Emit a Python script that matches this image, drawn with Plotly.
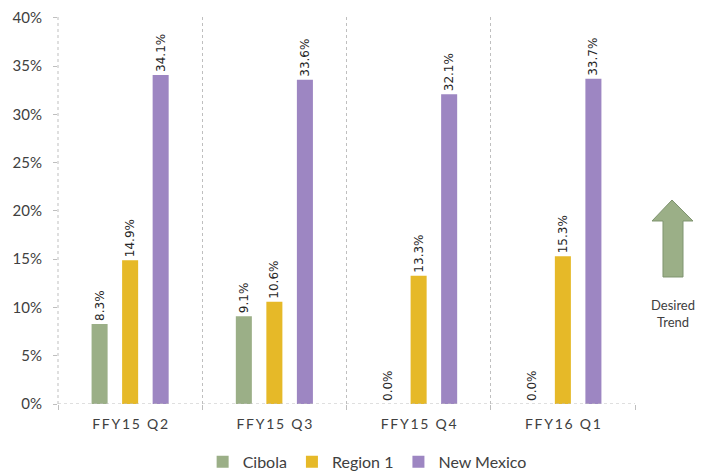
import plotly.graph_objects as go

# Data
quarters = ['FFY15 Q2', 'FFY15 Q3', 'FFY15 Q4', 'FFY16 Q1']
cibola = [0.083, 0.091, 0.0, 0.0]
region1 = [0.149, 0.106, 0.133, 0.153]
new_mexico = [0.341, 0.336, 0.321, 0.337]

series = [('Cibola', cibola, '#9BAF87'),
          ('Region 1', region1, '#E6B928'),
          ('New Mexico', new_mexico, '#9D86C2')]

fig = go.Figure()
for name, vals, color in series:
    fig.add_trace(go.Bar(x=quarters, y=vals, name=name,
                         marker=dict(color=color, line=dict(width=0)),
                         text=[f'{v*100:.1f}%' for v in vals],
                         textposition='outside', textangle=-90,
                         textfont=dict(family='DejaVu Sans', size=12, color='#262626'),
                         cliponaxis=False))

# spaced-out category labels like the original
spaced = ['\u2009'.join(q) for q in quarters]

# the page body has an 8px margin, so the figure is a bit smaller than the window
fig.update_layout(
    width=696, height=463,
    margin=dict(l=50, r=69, t=9, b=67, autoexpand=False),
    plot_bgcolor='white', paper_bgcolor='white',
    barmode='group', bargap=0.365, bargroupgap=0.475,
    font=dict(family='Lato', color='#404040'),
    uniformtext=dict(mode='show', minsize=12),
    showlegend=True,
    legend=dict(orientation='h', xref='container', yref='container',
                x=0.516, xanchor='center', y=0.02, yanchor='middle',
                font=dict(size=16, color='#404040'), itemwidth=30,
                traceorder='normal'),
)

fig.update_xaxes(tickson='boundaries', showgrid=True, gridcolor='#BFBFBF',
                 griddash='dot', gridwidth=1, ticks='outside', ticklen=5,
                 tickcolor='#BFBFBF', showline=False, ticklabelstandoff=10,
                 tickmode='array', tickvals=quarters, ticktext=spaced,
                 tickfont=dict(size=14, color='#404040'))
fig.update_yaxes(range=[0, 0.401], tickvals=[i * 0.05 for i in range(9)],
                 tickformat='.0%', showgrid=False, ticklabeloverflow='allow',
                 zeroline=False, showline=False, ticks='outside', ticklen=4,
                 tickcolor='#BFBFBF', ticklabelstandoff=8,
                 tickfont=dict(size=15, color='#404040'))

# dotted axis lines
fig.add_shape(type='line', xref='paper', yref='y', x0=0, x1=1, y0=0, y1=0,
              line=dict(color='#BFBFBF', width=1, dash='dot'))
fig.add_shape(type='line', xref='paper', yref='paper', x0=0, x1=0, y0=0, y1=1,
              line=dict(color='#BFBFBF', width=1, dash='dot'))

# "Desired Trend" arrow
fig.add_shape(type='path', xref='paper', yref='paper',
              path='M 1.0641 0.5271 L 1.1005 0.4729 L 1.0832 0.4729 L 1.0832 0.3282 '
                   'L 1.0485 0.3282 L 1.0485 0.4729 L 1.0295 0.4729 Z',
              fillcolor='#9BAF87', line=dict(color='#7F9470', width=1))
fig.add_annotation(xref='paper', yref='paper', x=1.066, y=0.235,
                   xanchor='center', yanchor='middle',
                   text='Desired<br>Trend', showarrow=False,
                   font=dict(family='Lato', size=13, color='#404040'))

fig.write_html('out.html')
